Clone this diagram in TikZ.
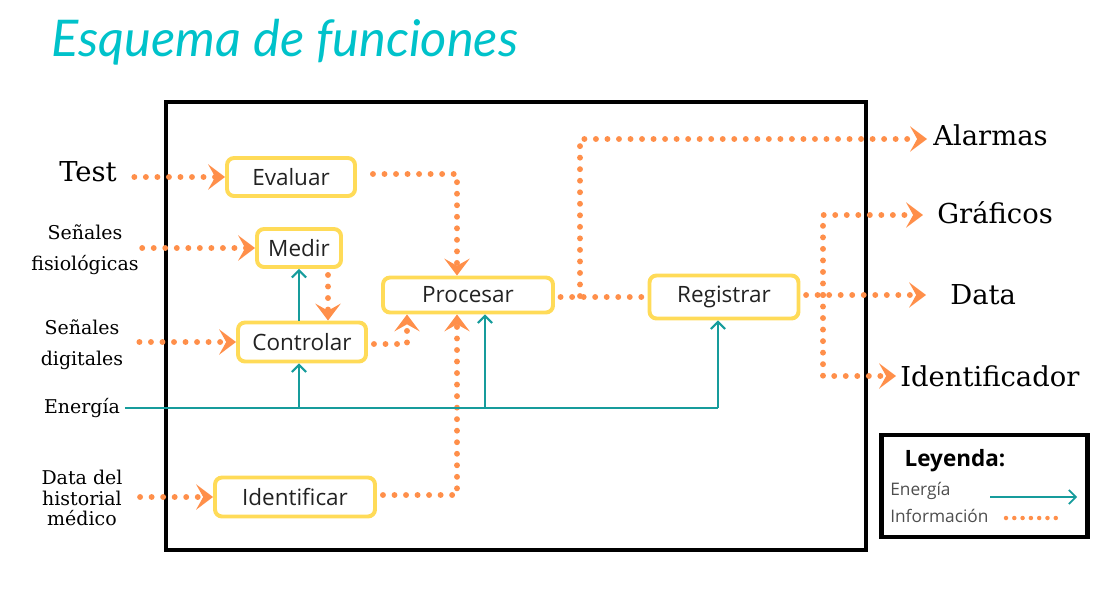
\documentclass[tikz,border=0pt]{standalone}
\usepackage{fontspec}
\usetikzlibrary{arrows.meta}
\setmainfont{DejaVu Serif}
\newfontfamily\cajafont{Open Sans}
\newfontfamily\titulofont{Lato}

\definecolor{naranja}{HTML}{FF8F4A}
\definecolor{amarillo}{HTML}{FFDB58}
\definecolor{verdeazul}{HTML}{169C9C}
\definecolor{turquesa}{HTML}{00C2CA}
\definecolor{texto}{HTML}{222222}

\begin{document}
\begin{tikzpicture}[x=0.25mm,y=-0.25mm,
  caja/.style={draw=amarillo,line width=2.8pt,rounded corners=5pt,inner sep=0pt,
    font=\cajafont\fontsize{16}{19}\selectfont,text=texto},
  etiq/.style={font=\fontsize{19.5}{22}\selectfont},
  etiqpeq/.style={font=\fontsize{13.5}{22}\selectfont,align=center},
  leytxt/.style={font=\cajafont\fontsize{12.3}{14}\selectfont,text=texto!80,anchor=west,inner sep=0pt},
  info/.style={draw=naranja,line width=4.2pt,line cap=round,dash pattern=on 0pt off 8.2pt},
  infoflecha/.style={info,-{Stealth[length=12pt,width=18pt,inset=5pt]}},
  energia/.style={draw=verdeazul,line width=1.5pt,-{Straight Barb[length=5pt,width=10pt]}}]
\useasboundingbox (0,0) rectangle (1100,600);

% titulo y marco
\node[font=\titulofont\itshape\fontsize{36}{40}\selectfont,text=turquesa] (titulo) at (285,42) {Esquema de funciones};
\node[draw,line width=3.5pt,minimum width=175mm,minimum height=112mm] (marco) at (516,326) {};

% funciones
\node[caja,minimum width=32mm,minimum height=9.5mm] (evaluar) at (291,177) {Evaluar};
\node[caja,minimum width=21mm,minimum height=9.5mm] (medir) at (299,248) {Medir};
\node[caja,minimum width=32mm,minimum height=9.75mm] (controlar) at (302,342) {Controlar};
\node[caja,minimum width=42.5mm,minimum height=8.75mm] (procesar) at (468,295) {Procesar};
\node[caja,minimum width=37.25mm,minimum height=10.75mm] (registrar) at (724,297) {Registrar};
\node[caja,minimum width=40mm,minimum height=9.75mm] (identificar) at (295,497) {Identificar};

% entradas
\node[etiq] (test) at (88,172) {Test};
\node[etiqpeq] (fisio) at (85,250) {Señales\\fisiológicas};
\node[etiqpeq] (digit) at (82,345) {Señales\\digitales};
\node[etiqpeq] (energ) at (82,408) {Energía};
\node[etiqpeq,font=\fontsize{13.5}{14.3}\selectfont] (hist) at (82,498) {Data del\\historial\\médico};

% salidas
\node[etiq,anchor=west,inner sep=0pt] (alarmas) at (933,135) {Alarmas};
\node[etiq,anchor=west,inner sep=0pt] (graficos) at (937,213) {Gráficos};
\node[etiq,anchor=west,inner sep=0pt] (data) at (950,295) {Data};
\node[etiq,anchor=west,inner sep=0pt] (ident) at (900,376) {Identificador};

% informacion
\draw[infoflecha,shorten <=9pt] (test.east |- evaluar.west) -- (evaluar.west);
\draw[infoflecha,shorten <=-1pt] (fisio.east |- medir.west) -- (medir.west);
\draw[infoflecha,shorten <=8pt] (digit.east |- controlar.west) -- (controlar.west);
\draw[infoflecha,shorten <=9pt] (hist.east |- identificar.west) -- (identificar.west);
\draw[infoflecha] ([xshift=4mm,yshift=0.75mm]evaluar.east) -| ([xshift=-2.75mm]procesar.north);
\draw[infoflecha] ([xshift=7.25mm,yshift=-1.5mm]medir.south) -- ([xshift=7.25mm]medir.south |- controlar.north);
\draw[infoflecha] ([xshift=1.5mm,yshift=-0.5mm]controlar.east) -| ([xshift=-15.25mm]procesar.south);
\draw[infoflecha] ([xshift=1.5mm,yshift=0.5mm]identificar.east) -| ([xshift=-2.75mm]procesar.south);
\draw[info,shorten <=4pt,shorten >=4pt] (procesar.east |- registrar.west) -- (registrar.west);
\coordinate (ramaA) at (580,296);
\draw[infoflecha] (ramaA) |- ([xshift=-1.5mm,yshift=-1mm]alarmas.west);
\coordinate (ramaB) at (823,295);
\draw[infoflecha,shorten <=4pt] (registrar.east |- data.west) -- ([xshift=-6mm]data.west);
\draw[infoflecha] (ramaB) |- ([xshift=-3.5mm,yshift=-0.5mm]graficos.west);
\draw[infoflecha] (ramaB) |- ([xshift=-1mm]ident.west);

% energia
\coordinate (eA) at (299,408);
\coordinate (eB) at (485,408);
\coordinate (eFin) at (718,408);
\draw[verdeazul,line width=1.5pt] (energ.east) -- (eFin);
\draw[energia] (eA) -- (eA |- controlar.south);
\draw[energia] (eB) -- (eB |- procesar.south);
\draw[energia] (eFin) -- (eFin |- registrar.south);
\draw[energia] (medir.south |- controlar.north) -- (medir.south);

% leyenda
\node[draw,line width=3pt,minimum width=51.5mm,minimum height=25.5mm] (leyenda) at (984.5,486) {};
\node[font=\cajafont\bfseries\fontsize{16}{18}\selectfont] (leytit) at (955,461) {Leyenda:};
\node[leytxt] (leyE) at (890,491) {Energía};
\node[leytxt] (leyI) at (890,516) {Información};
\coordinate (leyE1) at (990,497);
\coordinate (leyE2) at (1077,497);
\coordinate (leyI1) at (1006,518);
\coordinate (leyI2) at (1064,518);
\draw[energia,line width=1.2pt] (leyE1) -- (leyE2);
\draw[info,line width=3.2pt,dash pattern=on 0pt off 5.9pt] (leyI1) -- (leyI2);
\end{tikzpicture}
\end{document}
